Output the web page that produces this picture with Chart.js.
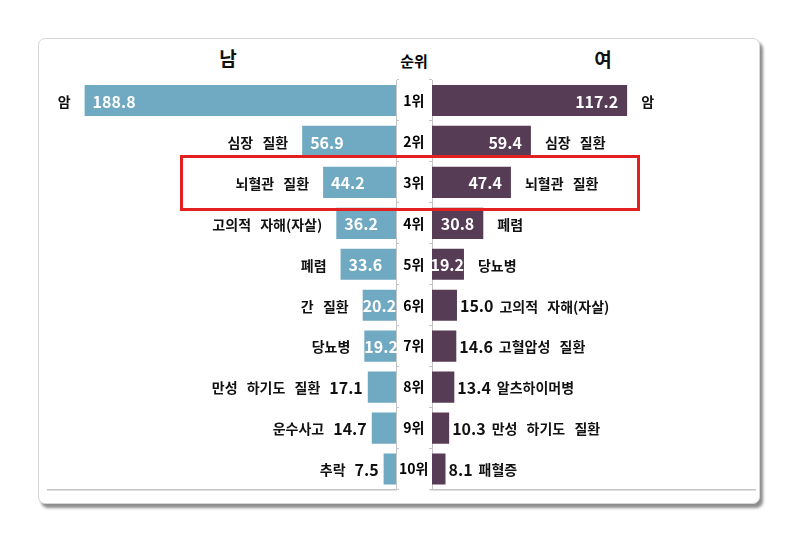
<!DOCTYPE html>
<html>
<head>
<meta charset="utf-8">
<script src="https://cdn.jsdelivr.net/npm/chart.js@4.4.0/dist/chart.umd.min.js"></script>
<style>
html,body{margin:0;padding:0;background:#fff;}
body{width:804px;height:549px;position:relative;overflow:hidden;font-family:"Noto Sans CJK KR","Noto Sans",sans-serif;}
#card{position:absolute;left:38px;top:38px;width:720px;height:464px;border:1px solid #d6d6d6;border-radius:7px;background:#fff;box-shadow:3px 4px 3px rgba(0,0,0,0.45);}
.wrap{position:absolute;top:0;height:549px;}
#lw{left:0;width:432px;}
#rw{left:400px;width:404px;}
.hdr{position:absolute;font-weight:bold;color:#111;transform:translateX(-50%);white-space:nowrap;line-height:1;}
#hl{left:228px;top:48px;font-size:19px;}
#hm{left:414px;top:53px;font-size:15px;color:#000;}
#hr{left:603px;top:49px;font-size:19px;}
#hbox{position:absolute;left:180px;top:155px;width:454px;height:50px;border:3px solid #e1201f;pointer-events:none;}
</style>
</head>
<body>
<div id="card"></div>
<div class="hdr" id="hl">남</div>
<div class="hdr" id="hm">순위</div>
<div class="hdr" id="hr">여</div>
<div class="wrap" id="lw"><canvas id="cm"></canvas></div>
<div class="wrap" id="rw"><canvas id="cf"></canvas></div>
<div id="hbox"></div>
<script>
// ---- data ----
const ranks = ['1위','2위','3위','4위','5위','6위','7위','8위','9위','10위'];
const maleCauses = ['암','심장 질환','뇌혈관 질환','고의적 자해(자살)','폐렴','간 질환','당뇨병','만성 하기도 질환','운수사고','추락'];
const maleValues = [188.8, 56.9, 44.2, 36.2, 33.6, 20.2, 19.2, 17.1, 14.7, 7.5];
const femaleCauses = ['암','심장 질환','뇌혈관 질환','폐렴','당뇨병','고의적 자해(자살)','고혈압성 질환','알츠하이머병','만성 하기도 질환','패혈증'];
const femaleValues = [117.2, 59.4, 47.4, 30.8, 19.2, 15.0, 14.6, 13.4, 10.3, 8.1];

const FONT = '"Noto Sans CJK KR", "Noto Sans", sans-serif';
const MALE_COLOR = '#6fa9c2';
const FEMALE_COLOR = '#563c55';
const AXIS_COLOR = '#c4c4c4';

const labelPlugin = {
  id: 'barLabels',
  afterDatasetsDraw(chart, args, opts) {
    const ctx = chart.ctx;
    const meta = chart.getDatasetMeta(0);
    const vals = chart.data.datasets[0].data;
    const names = opts.names;
    const left = opts.side === 'left';
    const valueFont = 'bold 16px ' + FONT;
    const nameFont = 'bold 14px ' + FONT;
    ctx.save();
    ctx.textBaseline = 'middle';
    meta.data.forEach((bar, i) => {
      const txt = vals[i].toFixed(1);
      ctx.font = valueFont;
      if ('wordSpacing' in ctx) ctx.wordSpacing = '0px';
      const tw = ctx.measureText(txt).width;
      const barW = Math.abs(bar.x - bar.base);
      const y = bar.y + 1;
      const inside = barW >= 30;
      let anchor;
      if (left) {
        if (inside) {
          const pad = Math.min(8, Math.max(0, barW - tw - 1));
          ctx.fillStyle = '#ffffff';
          ctx.textAlign = 'left';
          ctx.fillText(txt, bar.x + pad, y);
          anchor = bar.x - 14;
        } else {
          ctx.fillStyle = '#111111';
          ctx.textAlign = 'right';
          ctx.fillText(txt, bar.x - 5, y);
          anchor = bar.x - 5 - tw - 9;
        }
      } else {
        if (inside) {
          const pad = Math.min(9, Math.max(0, barW - tw - 1));
          ctx.fillStyle = '#ffffff';
          ctx.textAlign = 'right';
          ctx.fillText(txt, bar.x - pad, y);
          anchor = bar.x + 14;
        } else {
          ctx.fillStyle = '#111111';
          ctx.textAlign = 'left';
          ctx.fillText(txt, bar.x + 3, y);
          anchor = bar.x + 3 + tw + 6;
        }
      }
      ctx.font = nameFont;
      if ('wordSpacing' in ctx) ctx.wordSpacing = '6px';
      ctx.fillStyle = '#111111';
      ctx.textAlign = left ? 'right' : 'left';
      ctx.fillText(names[i], anchor, y);
    });
    ctx.restore();
  }
};

function makeChart(id, values, names, color, side) {
  const isLeft = side === 'left';
  return new Chart(document.getElementById(id), {
    type: 'bar',
    data: {
      labels: ranks,
      datasets: [{ data: values, backgroundColor: color, borderWidth: 0,
                   barPercentage: 0.76, categoryPercentage: 1.0 }]
    },
    plugins: [labelPlugin],
    options: {
      indexAxis: 'y',
      responsive: true,
      maintainAspectRatio: false,
      animation: false,
      events: [],
      layout: { padding: isLeft ? { left: 48, right: 0, top: 80, bottom: 59.5 }
                                : { left: 0, right: 49, top: 80, bottom: 59.5 } },
      plugins: {
        legend: { display: false },
        tooltip: { enabled: false },
        barLabels: { names: names, side: side }
      },
      scales: {
        x: {
          type: 'linear',
          reverse: isLeft,
          min: 0,
          max: isLeft ? 211 : 194,
          ticks: { display: false },
          grid: { display: false, drawTicks: false },
          border: { display: true, color: AXIS_COLOR, width: 1.5 },
          afterFit(scale) { scale.height = 0; }
        },
        y: {
          position: isLeft ? 'right' : 'left',
          grid: { display: true, drawOnChartArea: false, drawTicks: true, tickLength: 3,
                  color: AXIS_COLOR, offset: true },
          border: { display: true, color: AXIS_COLOR, width: 1 },
          ticks: {
            display: isLeft,
            crossAlign: 'center',
            padding: 0,
            color: '#000000',
            font: { family: FONT, size: 14, weight: 'bold' }
          },
          afterFit(scale) { scale.width = isLeft ? 36 : 32; }
        }
      }
    }
  });
}

function start() {
  makeChart('cm', maleValues, maleCauses, MALE_COLOR, 'left');
  makeChart('cf', femaleValues, femaleCauses, FEMALE_COLOR, 'right');
}
if (document.fonts && document.fonts.load) {
  Promise.all([
    document.fonts.load('bold 15px "Noto Sans CJK KR"', '암1위'),
    document.fonts.load('15px "Noto Sans CJK KR"', '순위')
  ]).then(start, start);
} else { start(); }
</script>
</body>
</html>
